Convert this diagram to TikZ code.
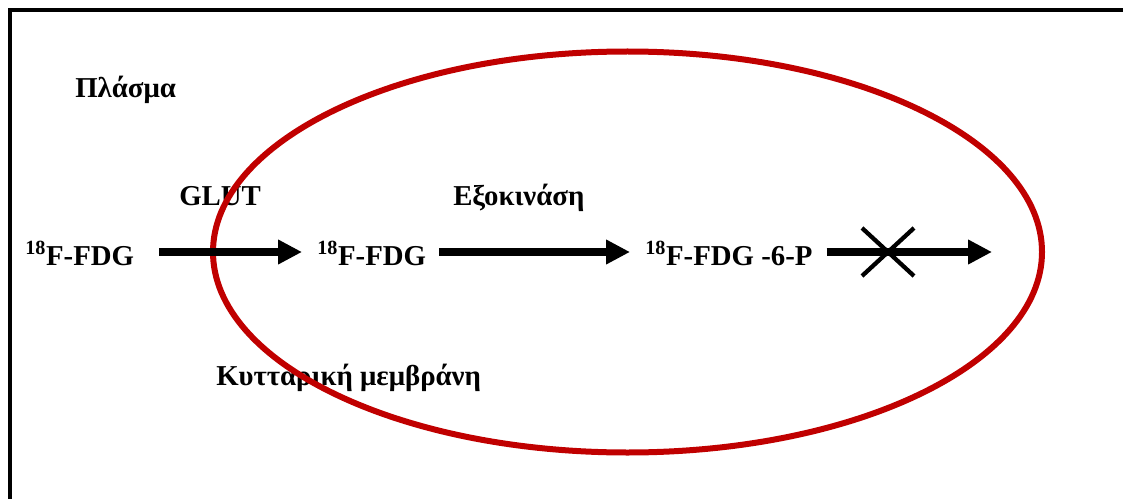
\documentclass[tikz,border=0pt]{standalone}
\usepackage{fontspec}
\setmainfont{Liberation Serif}
\usetikzlibrary{arrows.meta,calc,shapes.geometric}
\definecolor{membrane}{RGB}{192,0,0}
\begin{document}
\begin{tikzpicture}[x=0.75pt,y=-0.75pt,
  lbl/.style={inner sep=0pt,anchor=base west,font=\fontsize{21.6}{25}\selectfont\bfseries},
  arr/.style={line width=6pt,-{Triangle[length=18pt,width=17.5pt]}},
  cross/.style={line width=3.2pt},
  memb/.style={draw=membrane,line width=4.5pt}]
\useasboundingbox (0,0) rectangle (1123,499);
\draw[line width=2.4pt] (1140,10) -- (10,10) -- (10,520);
% texts
\node[lbl] (plasma) at (75,98) {Πλάσμα};
\node[lbl] (glut) at (179,205) {GLUT};
\node[lbl] (hexo) at (453,205) {Εξοκινάση};
\node[lbl] (fdg1) at (25,265) {\textsuperscript{18}F-FDG};
\node[lbl] (fdg2) at (317,265) {\textsuperscript{18}F-FDG};
\node[lbl] (fdg3) at (645,265) {\textsuperscript{18}F-FDG -6-P};
\node[lbl] (memlbl) at (216,385) {Κυτταρική μεμβράνη};
% membrane
\node[memb,ellipse,minimum width=829*0.75pt,minimum height=401*0.75pt,inner sep=0pt] (cell) at (627.5,252) {};
% arrows
\coordinate (ay) at (0,252);
\coordinate (blocked) at (992,252);
\draw[arr] ($(fdg1.east |- ay)+(25,0)$) -- ($(fdg2.west |- ay)+(-15,0)$);
\draw[arr] ($(fdg2.east |- ay)+(13,0)$) -- ($(fdg3.west |- ay)+(-15,0)$);
\draw[arr] ($(fdg3.east |- ay)+(14,0)$) -- (blocked);
\coordinate (xc) at (888,252);
\draw[cross] ($(xc)+(-26,-24)$) -- ($(xc)+(26,24)$);
\draw[cross] ($(xc)+(-26,24)$) -- ($(xc)+(26,-24)$);
\end{tikzpicture}
\end{document}
